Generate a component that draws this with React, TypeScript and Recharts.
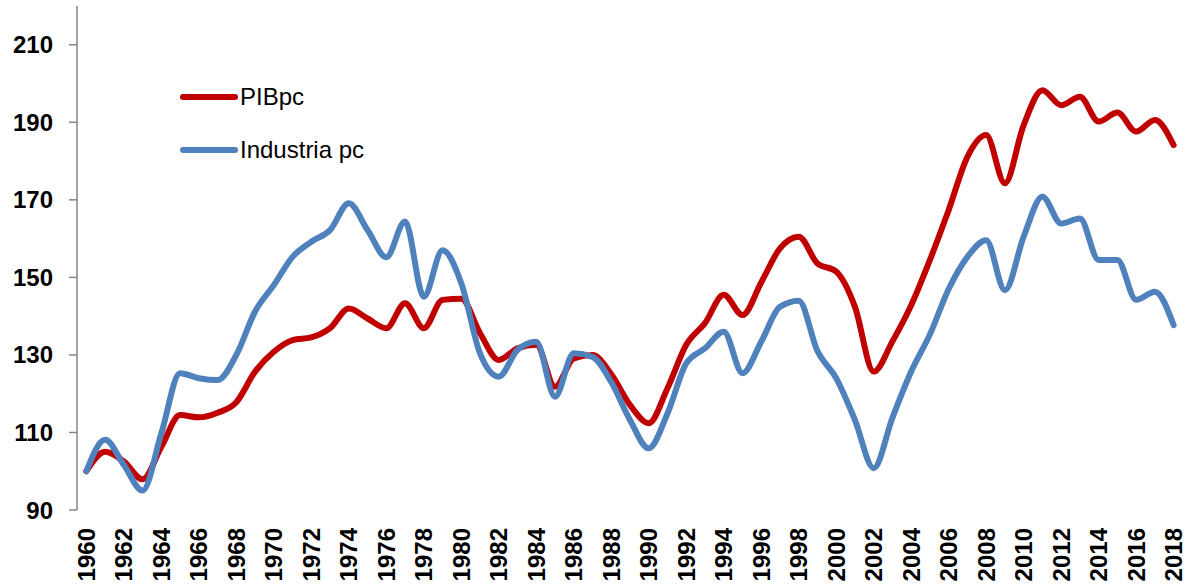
import { LineChart, Line, XAxis, YAxis, Legend } from "recharts";

const years = [
  1960, 1961, 1962, 1963, 1964, 1965, 1966, 1967, 1968, 1969,
  1970, 1971, 1972, 1973, 1974, 1975, 1976, 1977, 1978, 1979,
  1980, 1981, 1982, 1983, 1984, 1985, 1986, 1987, 1988, 1989,
  1990, 1991, 1992, 1993, 1994, 1995, 1996, 1997, 1998, 1999,
  2000, 2001, 2002, 2003, 2004, 2005, 2006, 2007, 2008, 2009,
  2010, 2011, 2012, 2013, 2014, 2015, 2016, 2017, 2018,
];

const pibpc = [
  100, 105.0, 102.5, 97.9, 106.3, 114.5, 113.9, 115.1, 117.8, 125.7,
  130.8, 133.8, 134.5, 136.9, 142.0, 139.4, 136.9, 143.3, 136.9, 144.2,
  144.5, 135.6, 128.7, 131.7, 132.6, 121.8, 129.1, 130.0, 125.0, 117.1,
  112.4, 121.4, 132.6, 138.2, 145.5, 140.3, 148.7, 157.5, 160.5, 153.6,
  151.5, 142.4, 125.7, 133.5, 142.8, 154.5, 167.4, 181.1, 186.7, 174.3,
  189.3, 198.3, 194.4, 196.6, 190.2, 192.5, 187.6, 190.6, 184.1,
];

const industriaPc = [
  100, 108.1, 101.6, 95.0, 109.8, 125.3, 124.0, 123.5, 130.0, 141.2,
  148.0, 155.3, 159.2, 162.2, 169.1, 162.2, 155.2, 164.4, 145.0, 157.0,
  148.5, 130.4, 124.4, 131.3, 133.4, 119.2, 130.4, 129.5, 123.0, 113.2,
  105.9, 114.9, 127.8, 131.7, 136.0, 125.3, 133.4, 142.4, 144.0, 131.0,
  124.0, 113.2, 100.8, 113.8, 125.7, 135.3, 147.0, 155.3, 159.6, 146.7,
  160.5, 170.8, 163.9, 165.2, 154.5, 154.5, 144.2, 146.3, 137.7,
];

const seriesNames = ["PIBpc", "Industria pc"];
const yTicks = [90, 110, 130, 150, 170, 190, 210];
const yearLabels = [
  1960, 1962, 1964, 1966, 1968, 1970, 1972, 1974, 1976, 1978,
  1980, 1982, 1984, 1986, 1988, 1990, 1992, 1994, 1996, 1998,
  2000, 2002, 2004, 2006, 2008, 2010, 2012, 2014, 2016, 2018,
];

const data = years.map((year, i) => ({
  year,
  PIBpc: pibpc[i],
  "Industria pc": industriaPc[i],
}));

// tick marks sit between the categories, like Excel
const boundaries = [...years.map((y) => y - 0.5), years[years.length - 1] + 0.5];
const domain = [boundaries[0], boundaries[boundaries.length - 1]];

const FONT = "'Liberation Sans', Arial, sans-serif";
const AXIS = "#868686";

function YearTick({ x, y, payload }: any) {
  return (
    <text
      x={x}
      y={y}
      transform={`rotate(-90, ${x}, ${y})`}
      textAnchor="end"
      dominantBaseline="central"
      fontFamily={FONT}
      fontWeight="bold"
      fontSize={24}
      fill="#000"
    >
      {payload.value}
    </text>
  );
}

function LegendBox({ payload }: any) {
  const items = [...(payload || [])].sort(
    (a: any, b: any) => seriesNames.indexOf(a.value) - seriesNames.indexOf(b.value)
  );
  return (
    <div style={{ fontFamily: FONT, fontSize: 24, color: "#000" }}>
      {items.map((p: any) => (
        <div
          key={p.value}
          style={{ display: "flex", alignItems: "center", height: 53 }}
        >
          <svg width={58} height={10} style={{ marginRight: 2 }}>
            <line
              x1={3}
              y1={5}
              x2={55}
              y2={5}
              stroke={p.color}
              strokeWidth={6}
              strokeLinecap="round"
            />
          </svg>
          <span>{p.value}</span>
        </div>
      ))}
    </div>
  );
}

export default function App() {
  return (
    <div style={{ position: "absolute", left: 0, top: 0, width: 1186, height: 586, background: "#fff" }}>
      <LineChart
        width={1186}
        height={586}
        data={data}
        margin={{ top: 6, right: 3, left: 0, bottom: 0 }}
      >
        <XAxis
          xAxisId="marks"
          dataKey="year"
          type="number"
          domain={domain}
          ticks={boundaries}
          tickFormatter={() => ""}
          interval={0}
          height={0}
          tickSize={7}
          axisLine={{ stroke: AXIS, strokeWidth: 1.5 }}
          tickLine={{ stroke: AXIS, strokeWidth: 1.5 }}
        />
        <XAxis
          xAxisId="years"
          dataKey="year"
          type="number"
          domain={domain}
          ticks={yearLabels}
          interval={0}
          height={76}
          tickSize={0}
          tickMargin={18}
          axisLine={false}
          tickLine={false}
          tick={<YearTick />}
        />
        <YAxis
          domain={[90, 220]}
          ticks={yTicks}
          interval={0}
          width={77}
          tickSize={8}
          tickMargin={16}
          axisLine={{ stroke: AXIS, strokeWidth: 1.5 }}
          tickLine={{ stroke: AXIS, strokeWidth: 1.5 }}
          tick={{ fontFamily: FONT, fontWeight: "bold", fontSize: 24, fill: "#000" }}
        />
        <Legend
          layout="vertical"
          align="center"
          verticalAlign="middle"
          content={<LegendBox />}
          wrapperStyle={{ left: 180, top: 70, width: 240 }}
        />
        <Line
          xAxisId="years"
          type="monotone"
          dataKey="PIBpc"
          stroke="#C00000"
          strokeWidth={6}
          strokeLinecap="round"
          strokeLinejoin="round"
          dot={false}
          isAnimationActive={false}
        />
        <Line
          xAxisId="years"
          type="monotone"
          dataKey="Industria pc"
          stroke="#4F81BD"
          strokeWidth={6}
          strokeLinecap="round"
          strokeLinejoin="round"
          dot={false}
          isAnimationActive={false}
        />
      </LineChart>
    </div>
  );
}
